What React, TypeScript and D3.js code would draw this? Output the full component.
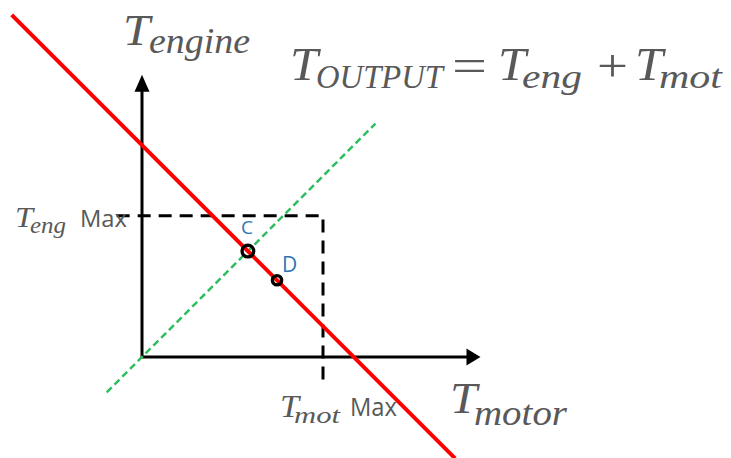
import React from "react";
import * as d3 from "d3";

// Torque-plane data (arbitrary units; Tmot max = 100)
const xAxisEnd = 187;
const yAxisEnd = 156;
const outputLine: [number, number][] = [[-72, 189], [173, -56]]; // Teng + Tmot = 117
const equalLine: [number, number][] = [[-19.5, -19.5], [129, 129]];
const maxBox: [number, number][] = [[-14, 78], [100, 78], [100, -15]];
const pointLabels = ["C", "D"];
const pointTmot = [58.5, 74.6];
const pointTeng = [58.5, 42.4];
const pointRadius = [5.8, 4.6];

const W = 731;
const H = 458;
const GRAY = "#595959";
const BLUE = "#2E75B6";
const MATH = "'Liberation Serif', serif";
const SANS = "'Open Sans', 'Noto Sans', sans-serif";

export default function App() {
  const x = d3.scaleLinear().domain([0, 100]).range([142, 323]);
  const y = d3.scaleLinear().domain([0, 100]).range([357, 176]);
  const line = d3
    .line<[number, number]>()
    .x((d) => x(d[0]))
    .y((d) => y(d[1]));

  const ox = x(0);
  const oy = y(0);
  const xTip = x(xAxisEnd);
  const yTip = y(yAxisEnd);

  const T = (props: any) => (
    <text
      fill={GRAY}
      fontFamily={MATH}
      fontStyle="italic"
      lengthAdjust="spacingAndGlyphs"
      {...props}
    />
  );

  return (
    <svg
      width={W}
      height={H}
      viewBox={`0 0 ${W} ${H}`}
      style={{ position: "absolute", left: 0, top: 0, background: "#fff" }}
    >
      <rect width={W} height={H} fill="#fff" />
      {/* axes */}
      <line x1={ox} y1={oy} x2={ox} y2={yTip + 14} stroke="#000" strokeWidth={3} />
      <path d={`M${ox},${yTip} L${ox - 7.5},${yTip + 17} L${ox + 7.5},${yTip + 17} Z`} fill="#000" />
      <line x1={ox} y1={oy} x2={xTip - 12} y2={oy} stroke="#000" strokeWidth={3} />
      <path d={`M${xTip},${oy} L${xTip - 14},${oy - 8.5} L${xTip - 14},${oy + 8.5} Z`} fill="#000" />

      {/* max box */}
      <path d={line(maxBox) || ""} fill="none" stroke="#000" strokeWidth={3} strokeDasharray="13 8" />

      {/* Teng = Tmot line */}
      <path d={line(equalLine) || ""} fill="none" stroke="#2DBE60" strokeWidth={2.5} strokeDasharray="7 4" />

      {/* output torque line */}
      <path d={line(outputLine) || ""} fill="none" stroke="#FF0000" strokeWidth={4} />

      {/* points */}
      {pointLabels.map((lab, i) => (
        <circle
          key={lab}
          cx={x(pointTmot[i])}
          cy={y(pointTeng[i])}
          r={pointRadius[i]}
          fill="none"
          stroke="#000"
          strokeWidth={3.4}
        />
      ))}
      <text x={241} y={234} fill={BLUE} fontFamily={SANS} fontSize={19}>{pointLabels[0]}</text>
      <text x={282} y={272} fill={BLUE} fontFamily={SANS} fontSize={21}>{pointLabels[1]}</text>

      {/* T_engine */}
      <T x={123} y={45} fontSize={45} textLength={27}>T</T>
      <T x={149} y={53} fontSize={36} textLength={101}>engine</T>

      {/* T_motor */}
      <T x={450} y={413} fontSize={45} textLength={27}>T</T>
      <T x={474} y={425} fontSize={36} textLength={93}>motor</T>

      {/* equation */}
      <T x={290} y={80} fontSize={47} textLength={28}>T</T>
      <T x={316} y={88} fontSize={34} textLength={127}>OUTPUT</T>
      <text x={452} y={81} fill={GRAY} fontFamily={MATH} fontSize={46} textLength={35} lengthAdjust="spacingAndGlyphs">=</text>
      <T x={498} y={80} fontSize={47} textLength={28}>T</T>
      <T x={522} y={88} fontSize={34} textLength={60}>eng</T>
      <text x={597} y={81} fill={GRAY} fontFamily={MATH} fontSize={46} textLength={31} lengthAdjust="spacingAndGlyphs">+</text>
      <T x={635} y={80} fontSize={47} textLength={28}>T</T>
      <T x={659} y={88} fontSize={34} textLength={63}>mot</T>

      {/* Teng Max */}
      <T x={15} y={227} fontSize={30} textLength={18}>T</T>
      <T x={30} y={233} fontSize={24} textLength={36}>eng</T>
      <text x={80} y={227} fill={GRAY} fontFamily={SANS} fontSize={24} textLength={47} lengthAdjust="spacingAndGlyphs">Max</text>

      {/* Tmot Max */}
      <T x={280} y={417} fontSize={31} textLength={19}>T</T>
      <T x={294} y={423} fontSize={24} textLength={46}>mot</T>
      <text x={350} y={416} fill={GRAY} fontFamily={SANS} fontSize={25} textLength={47} lengthAdjust="spacingAndGlyphs">Max</text>
    </svg>
  );
}
